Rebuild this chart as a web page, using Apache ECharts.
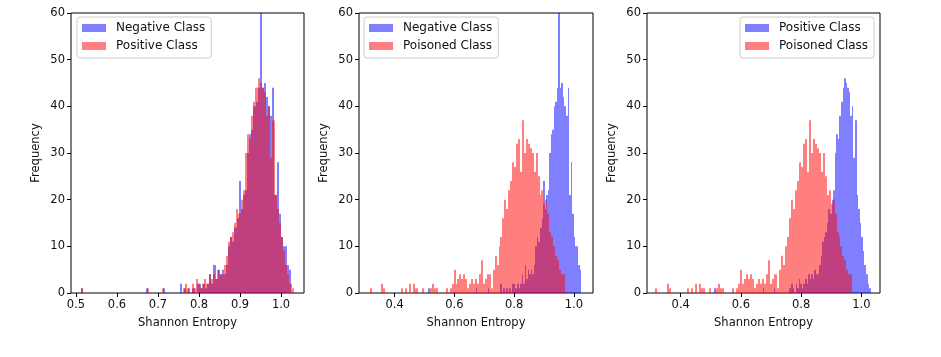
<!DOCTYPE html>
<html><head><meta charset="utf-8">
<script src="https://cdn.jsdelivr.net/npm/echarts@6/dist/echarts.min.js"></script>
<style>html,body{margin:0;padding:0;background:#fff}#c{width:941px;height:357px}</style>
</head><body><div id="c"></div>
<script>
// Histogram bin ranges [first edge, last edge] and counts (100 equal bins each)
const negativeRange = [0.512, 1.025];
const negativeCounts = [
  1,0,0,0,0,0,0,0,0,0,
  0,0,0,0,0,0,0,0,0,0,
  0,0,0,0,0,0,0,0,0,0,
  0,1,0,0,0,0,0,0,0,1,
  0,0,0,0,0,0,0,2,0,1,
  0,1,0,1,0,2,2,1,2,1,
  2,4,2,6,3,5,4,5,4,6,
  10,12,11,14,16,24,18,21,22,30,
  34,35,40,41,44,60,44,45,42,40,
  38,44,21,28,17,12,10,10,6,5
];
const positiveRange = [0.512, 1.031];
const positiveCounts = [
  1,0,0,0,0,0,0,0,0,0,
  0,0,0,0,0,0,0,0,0,0,
  0,0,0,0,0,0,0,0,0,0,
  0,1,0,0,0,0,0,0,1,0,
  0,0,0,0,0,0,0,0,1,2,
  1,0,2,1,3,2,1,2,3,2,
  4,3,4,3,5,4,4,6,8,11,
  12,13,15,18,17,20,22,30,34,33,
  38,41,44,46,45,44,43,38,40,29,
  37,21,18,15,12,9,6,4,2,1
];
const poisonedRange = [0.316, 0.970];
const poisonedCounts = [
  1,0,0,0,0,0,2,1,0,0,
  0,0,0,0,0,0,1,0,1,0,
  2,0,2,1,1,0,0,1,0,0,
  0,1,2,1,1,0,0,0,0,1,
  0,1,2,5,2,3,4,3,4,3,
  1,2,3,2,3,2,4,7,2,3,
  4,4,1,5,8,6,10,12,16,20,
  18,22,24,28,27,32,33,26,37,30,
  33,32,31,30,26,30,25,21,22,19,
  20,17,13,12,10,8,7,5,4,4
];
const yTicks = [0, 10, 20, 30, 40, 50, 60];
const xTicksPanel1 = [0.5, 0.6, 0.7, 0.8, 0.9, 1.0];
const xTicksPanel23 = [0.4, 0.6, 0.8, 1.0];
const xAxisTitle = 'Shannon Entropy';
const yAxisTitle = 'Frequency';

const datasets = {
  'Negative Class': {range: negativeRange, counts: negativeCounts},
  'Positive Class': {range: positiveRange, counts: positiveCounts},
  'Poisoned Class': {range: poisonedRange, counts: poisonedCounts}
};

const BLUE = 'rgba(0,0,255,0.5)';
const RED = 'rgba(255,0,0,0.5)';
const FONT = 'DejaVu Sans';
const TXT = '#111';

const panels = [
  {grid: {left: 71, top: 13, width: 233, height: 280}, xr: [0.4878, 1.056], ticks: xTicksPanel1,
   blue: 'Negative Class', red: 'Positive Class', legend: {left: 77, top: 17}},
  {grid: {left: 359, top: 13, width: 234, height: 280}, xr: [0.2806, 1.064], ticks: xTicksPanel23,
   blue: 'Negative Class', red: 'Poisoned Class', legend: {left: 364, top: 17}},
  {grid: {left: 647, top: 13, width: 233, height: 280}, xr: [0.288, 1.062], ticks: xTicksPanel23,
   blue: 'Positive Class', red: 'Poisoned Class', legend: {left: 740, top: 17}}
];

// Bins as [left edge, right edge, count]; edges follow from the bin range
function binItems(name) {
  const d = datasets[name];
  const n = d.counts.length;
  const w = (d.range[1] - d.range[0]) / n;
  return d.counts.map((c, i) => [d.range[0] + i * w, d.range[0] + (i + 1) * w, c]);
}

function makeRender(color) {
  return function (params, api) {
    const c = api.value(2);
    if (!c) return null;
    const p0 = api.coord([api.value(0), c]);
    const p1 = api.coord([api.value(1), 0]);
    const x0 = Math.round(p0[0]), x1 = Math.round(p1[0]);
    return {
      type: 'rect',
      shape: {x: x0, y: p0[1], width: Math.max(1, x1 - x0), height: p1[1] - p0[1]},
      style: {fill: color},
      silent: true
    };
  };
}

const option = {
  animation: false,
  backgroundColor: '#fff',
  textStyle: {fontFamily: FONT},
  grid: [], xAxis: [], yAxis: [], series: [], legend: []
};

panels.forEach((p, k) => {
  option.grid.push(Object.assign({show: true, borderColor: '#000', borderWidth: 1, backgroundColor: 'transparent'}, p.grid));
  option.xAxis.push({
    type: 'value', gridIndex: k, min: p.xr[0], max: p.xr[1],
    axisLine: {show: false},
    splitLine: {show: false},
    axisTick: {show: true, length: 4, customValues: p.ticks, lineStyle: {color: '#000'}},
    axisLabel: {customValues: p.ticks, formatter: v => v.toFixed(1), color: TXT, fontSize: 11.5, fontFamily: FONT, margin: 6},
    name: xAxisTitle, nameLocation: 'middle', nameGap: 24,
    nameTextStyle: {color: TXT, fontSize: 11.5, fontFamily: FONT}
  });
  option.yAxis.push({
    type: 'value', gridIndex: k, min: 0, max: 60, interval: 10,
    axisLine: {show: false},
    splitLine: {show: false},
    axisTick: {show: true, length: 4, lineStyle: {color: '#000'}},
    axisLabel: {color: TXT, fontSize: 11.5, fontFamily: FONT, margin: 6},
    name: yAxisTitle, nameLocation: 'middle', nameGap: 29,
    nameTextStyle: {color: TXT, fontSize: 11.5, fontFamily: FONT}
  });
  [[p.blue, BLUE], [p.red, RED]].forEach(([name, col]) => {
    option.series.push({
      type: 'custom', name: name, xAxisIndex: k, yAxisIndex: k,
      data: binItems(name),
      encode: {x: [0, 1], y: 2},
      renderItem: makeRender(col),
      itemStyle: {color: col},
      clip: true, silent: true
    });
  });
  option.legend.push({
    orient: 'vertical', left: p.legend.left, top: p.legend.top,
    icon: 'rect', itemWidth: 24, itemHeight: 8, itemGap: 4,
    padding: [4, 6, 5, 5],
    backgroundColor: 'rgba(255,255,255,0.8)', borderColor: '#ccc', borderWidth: 1, borderRadius: 3,
    selectedMode: false,
    textStyle: {color: TXT, fontSize: 12, fontFamily: FONT, lineHeight: 14, padding: [0, 0, 0, 5]},
    itemStyle: {borderWidth: 0},
    data: [
      {name: p.blue, itemStyle: {color: BLUE}},
      {name: p.red, itemStyle: {color: RED}}
    ]
  });
});

const chart = echarts.init(document.getElementById('c'), null, {renderer: 'canvas'});
chart.setOption(option);
</script>
</body></html>
